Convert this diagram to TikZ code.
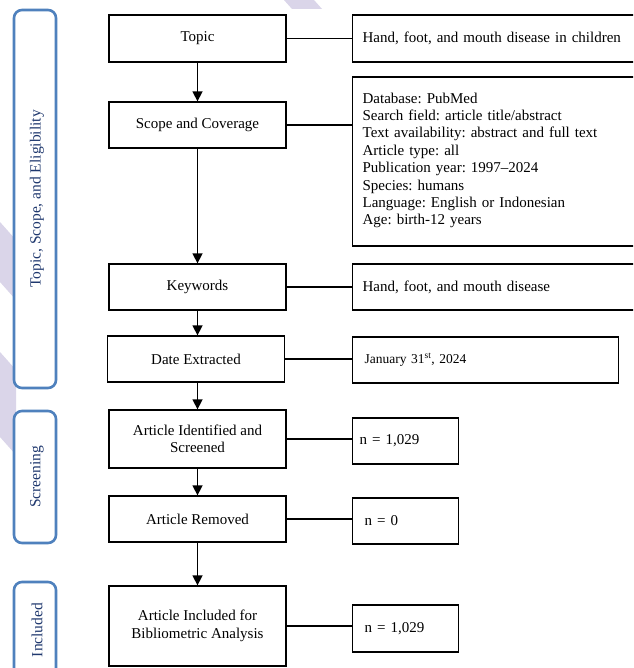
\documentclass[tikz,border=0pt]{standalone}
\usepackage{fontspec}
\setmainfont{Liberation Serif}
\usepackage{tikz}
\usetikzlibrary{arrows.meta}
\usetikzlibrary{positioning}
\definecolor{sideblue}{RGB}{79,129,189}
\definecolor{sidetext}{RGB}{31,56,110}
\definecolor{wmlilac}{RGB}{218,213,233}
\frenchspacing
\tikzset{
    stepbox/.style={
        draw=black,
        line width=1.3pt,
        fill=white,
        minimum width=177pt,
        align=center,
        font=\fontsize{15}{17.5}\selectfont
    },
    infobox/.style={
        draw=black,
        line width=1.3pt,
        fill=white,
        anchor=west,
        inner xsep=10pt,
        align=left,
        font=\fontsize{15}{17.4}\selectfont
    },
    % rounded frames on the left with the stage names
    stagebox/.style={
        draw=sideblue,
        line width=2.6pt,
        rounded corners=8pt,
        fill=white
    },
    stagelabel/.style={
        rotate=90,
        text=sidetext,
        font=\fontsize{15.5}{18}\selectfont
    },
    downarrow/.style={
        line width=1.5pt,
        -{Triangle[length=10pt, width=10pt]}
    },
    link/.style={
        line width=1.3pt
    }
}

\begin{document}
\begin{tikzpicture}[x=1pt, y=-1pt]
	\clip (0,0) rectangle (633,668);
	\fill[white] (0,0) rectangle (633,668);

	% watermark
	\fill[wmlilac] (284,0) -- (314,0) -- (322,9) -- (292,9) -- cycle;
	\fill[wmlilac] (0,222) -- (16,240) -- (16,300) -- (0,282) -- cycle;
	\fill[wmlilac] (0,352) -- (16,370) -- (16,455) -- (0,437) -- cycle;

	\draw[stagebox] (14,10) rectangle (56,388);
	\draw[stagebox] (14,411) rectangle (56,543);
	\draw[stagebox] (14,582) rectangle (56,700);
	\node [stagelabel] (lblTopic) at (37,199) {Topic, Scope, and Eligibility};
	\node [stagelabel] (lblScreen) at (37,477) {Screening};
	\node [stagelabel] (lblIncl) at (37,630) {Included};

	\node [stepbox, minimum height=47pt] (topic) at (197.5,38.5) {Topic};
	\node [stepbox, minimum height=46pt] (scope) at (197.5,125) {Scope and Coverage};
	\node [stepbox, minimum height=46pt] (keywords) at (197.5,287) {Keywords};
	\node [stepbox, minimum height=46pt] (date) at (196,359) {Date Extracted};
	\node [stepbox, minimum height=58pt] (ident) at (197.5,439) {Article Identified and\\Screened};
	\node [stepbox, minimum height=46pt] (removed) at (197.5,519) {Article Removed};
	\node [stepbox, minimum height=80pt] (incl) at (197.5,626) {Article Included for\\Bibliometric Analysis};

	\node [infobox, minimum height=47pt, text width=268pt] (topicR) at (352,38.5) {Hand, foot, and mouth disease in children};
	\node [infobox, minimum height=169pt, text width=268pt] (scopeR) at (352,161.5) {Database: PubMed\\Search field: article title/abstract\\Text availability: abstract and full text\\Article type: all\\Publication year: 1997--2024\\Species: humans\\Language: English or Indonesian\\Age: birth-12 years\strut};
	\node [infobox, minimum height=46pt, text width=268pt] (keywordsR) at (352,287) {Hand, foot, and mouth disease};
	\node [infobox, minimum height=46pt, text width=242pt, inner xsep=12pt, font=\fontsize{13.5}{16}\selectfont] (dateR) at (352,360) {January 31\textsuperscript{st}, 2024};
	\node [infobox, minimum height=46pt, text width=92pt, inner xsep=7pt] (identR) at (352,441) {n = 1,029};
	\node [infobox, minimum height=46pt, text width=82pt, inner xsep=12pt] (removedR) at (352,521) {n =\ 0};
	\node [infobox, minimum height=47pt, text width=82pt, inner xsep=12pt] (inclR) at (352,628.5) {n = 1,029};

	\draw[downarrow] (topic) -- (scope);
	\draw[downarrow] (scope) -- (keywords);
	\draw[downarrow] (keywords) -- (keywords |- date.north);
	\draw[downarrow] (keywords |- date.south) -- (ident);
	\draw[downarrow] (ident) -- (removed);
	\draw[downarrow] (removed) -- (incl);

	\draw[link] (topic.east) -- (topic.east -| topicR.west);
	\draw[link] (scope.east) -- (scope.east -| scopeR.west);
	\draw[link] (keywords.east) -- (keywords.east -| keywordsR.west);
	\draw[link] (date.east) -- (date.east -| dateR.west);
	\draw[link] (ident.east) -- (ident.east -| identR.west);
	\draw[link] (removed.east) -- (removed.east -| removedR.west);
	\draw[link] (incl.east) -- (incl.east -| inclR.west);
\end{tikzpicture}
\end{document}
